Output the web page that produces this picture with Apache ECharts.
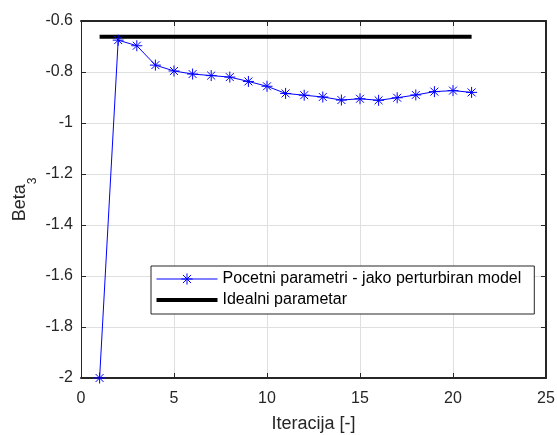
<!DOCTYPE html>
<html>
<head>
<meta charset="utf-8">
<script src="https://cdn.jsdelivr.net/npm/echarts@6/dist/echarts.min.js"></script>
<style>
html,body{margin:0;padding:0;background:#fff;}
#chart{width:557px;height:435px;}
</style>
</head>
<body>
<div id="chart"></div>
<script>
const iterations = [1,2,3,4,5,6,7,8,9,10,11,12,13,14,15,16,17,18,19,20,21];
const beta3 = [-2, -0.675, -0.697, -0.773, -0.796, -0.808, -0.814, -0.820, -0.837, -0.856, -0.884, -0.891, -0.898, -0.910, -0.905, -0.911, -0.901, -0.890, -0.877, -0.873, -0.880];
const idealValue = -0.662;
const idealRange = [1, 21];
const xTicks = [0, 5, 10, 15, 20, 25];
const yTicks = [-2, -1.8, -1.6, -1.4, -1.2, -1, -0.8, -0.6];
const seriesNames = ['Pocetni parametri - jako perturbiran model', 'Idealni parametar'];

const FONT = 'Liberation Sans, Arial, sans-serif';
const AX = '#262626';
const GRID = '#dfdfdf';
const star = 'path://M0,-1L0,1M-1,0L1,0M-0.72,-0.72L0.72,0.72M-0.72,0.72L0.72,-0.72';

const chart = echarts.init(document.getElementById('chart'), null, {renderer: 'canvas'});
const fmt = v => String(+(+v).toFixed(1));

const baseX = {
  type: 'value', min: xTicks[0], max: xTicks[xTicks.length-1], interval: 5,
  axisTick: {inside: true, length: 5, lineStyle: {color: AX, width: 1}},
  splitLine: {show: false}
};
const baseY = {
  type: 'value', min: yTicks[0], max: yTicks[yTicks.length-1], interval: 0.2,
  axisTick: {inside: true, length: 5, lineStyle: {color: AX, width: 1}},
  splitLine: {show: false}
};

chart.setOption({
  animation: false,
  backgroundColor: '#fff',
  textStyle: {fontFamily: FONT},
  grid: {left: 81, right: 11, top: 21, bottom: 57, containLabel: false, outerBoundsMode: 'none'},
  xAxis: [
    Object.assign({}, baseX, {
      position: 'bottom',
      axisLine: {show: true, onZero: false, lineStyle: {color: AX, width: 2}},
      axisLabel: {color: AX, fontSize: 16, fontFamily: FONT, margin: 13, formatter: fmt},
      splitLine: {show: true, lineStyle: {color: GRID, width: 1}},
      name: 'Iteracija [-]', nameLocation: 'middle', nameGap: 37, nameMoveOverlap: false,
      nameTextStyle: {color: AX, fontSize: 18, fontFamily: FONT}
    }),
    Object.assign({}, baseX, {
      position: 'top',
      axisLine: {show: true, onZero: false, lineStyle: {color: AX, width: 2}},
      axisLabel: {show: false}
    })
  ],
  yAxis: [
    Object.assign({}, baseY, {
      position: 'left',
      axisLine: {show: true, onZero: false, lineStyle: {color: AX, width: 1}},
      axisLabel: {color: AX, fontSize: 16, fontFamily: FONT, margin: 8, formatter: fmt},
      splitLine: {show: true, lineStyle: {color: GRID, width: 1}},
      name: '{b|Beta}{s|3}', nameLocation: 'middle', nameGap: 42, nameMoveOverlap: false,
      nameTextStyle: {
        color: AX, fontFamily: FONT,
        rich: {
          b: {fontSize: 18, lineHeight: 20, verticalAlign: 'top', color: AX, fontFamily: FONT},
          s: {fontSize: 12, lineHeight: 28, verticalAlign: 'bottom', color: AX, fontFamily: FONT}
        }
      }
    }),
    Object.assign({}, baseY, {
      position: 'right',
      axisLine: {show: true, onZero: false, lineStyle: {color: AX, width: 2}},
      axisLabel: {show: false}
    })
  ],
  legend: {
    left: 151, top: 266, orient: 'vertical',
    itemWidth: 61, itemHeight: 14, itemGap: 5,
    padding: [5, 13, 6, 5],
    borderColor: AX, borderWidth: 1, backgroundColor: '#fff',
    textStyle: {color: '#000', fontSize: 16, fontFamily: FONT},
    data: [
      {name: seriesNames[0], itemStyle: {color: 'rgba(0,0,0,0)', borderColor: '#0000ff', borderWidth: 1}, lineStyle: {width: 1, color: '#0000ff'}},
      {name: seriesNames[1], icon: 'path://M0,0H61V4H0Z'}
    ]
  },
  series: [
    {
      name: seriesNames[0], type: 'line',
      xAxisIndex: 0, yAxisIndex: 0,
      data: iterations.map((x, i) => [x, beta3[i]]),
      symbol: star, symbolSize: 11,
      lineStyle: {color: '#0000ff', width: 1},
      itemStyle: {color: 'rgba(0,0,0,0)', borderColor: '#0000ff', borderWidth: 1},
      color: '#0000ff',
      z: 3
    },
    {
      name: seriesNames[1], type: 'line',
      xAxisIndex: 0, yAxisIndex: 0,
      data: idealRange.map(x => [x, idealValue]),
      symbol: 'none', showSymbol: false,
      lineStyle: {color: '#000', width: 4},
      itemStyle: {color: '#000'},
      color: '#000',
      z: 2
    }
  ]
});
</script>
</body>
</html>
